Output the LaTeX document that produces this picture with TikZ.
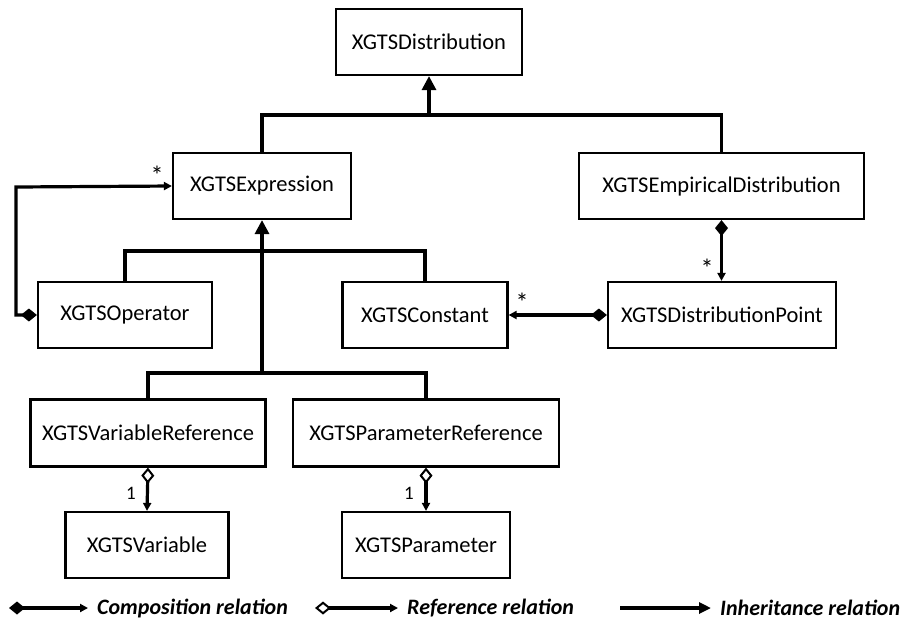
\documentclass[tikz,border=0pt]{standalone}
\usepackage{fontspec}
\setmainfont{Carlito}
\usetikzlibrary{arrows.meta}
\begin{document}
\begin{tikzpicture}[x=1pt,y=-1pt,
  cls/.style={draw,line width=2.2pt,rectangle,minimum height=66pt,inner sep=0pt,font=\fontsize{22.5}{26}\selectfont},
  conn/.style={line width=3.2pt},
  inh/.style={conn,-{Triangle[length=14pt,width=14pt]}},
  comp/.style={conn,{Diamond[length=16pt,width=13pt]}-{Triangle[length=8pt,width=8pt]}},
  refr/.style={conn,{Diamond[open,length=16pt,width=13pt,line width=2pt]}-{Triangle[length=8pt,width=8pt]}},
  mult/.style={font=\fontsize{19}{20}\selectfont},
  star/.style={font=\fontsize{26}{26}\selectfont},
  leg/.style={font=\fontsize{22}{24}\selectfont\bfseries\itshape,anchor=west,inner sep=0pt}
]
\useasboundingbox (0,0) rectangle (904,625);
\node[cls,minimum width=186pt] (dist) at (429,42) {XGTSDistribution};
\node[cls,minimum width=178pt] (expr) at (262,186) {XGTSExpression};
\node[cls,minimum width=285pt] (emp) at (721.5,186) {XGTSEmpiricalDistribution};
\node[cls,minimum width=174pt] (op) at (125,315) {XGTSOperator};
\node[cls,minimum width=165pt] (const) at (425,315) {XGTSConstant};
\node[cls,minimum width=228pt] (dpt) at (722,315) {XGTSDistributionPoint};
\node[cls,minimum width=235pt,minimum height=67pt] (varref) at (148,433) {XGTSVariableReference};
\node[cls,minimum width=266pt,minimum height=67pt] (parref) at (426,433) {XGTSParameterReference};
\node[cls,minimum width=163pt] (var) at (147,545) {XGTSVariable};
\node[cls,minimum width=168pt] (par) at (426,545) {XGTSParameter};

% inheritance to XGTSDistribution
\coordinate (j1) at (429,115);
\draw[conn] (expr.north) |- (j1) -| (emp.north);
\draw[inh] (j1) -- (dist.south);
% inheritance to XGTSExpression
\coordinate (j2) at (262,251);
\coordinate (j3) at (262,373);
\draw[conn] (op.north) |- (j2) -| (const.north);
\draw[conn] (varref.north) |- (j3) -| (parref.north);
\draw[inh] (j3) -- (expr.south);

% operator self composition
\coordinate (l1) at (16,315);
\coordinate (l2) at (16,187);
\draw[conn,{Diamond[length=16pt,width=13pt]}-{Triangle[length=8pt,width=8pt]}] (op.west) -- (l1) -- (l2) -- (expr.west);
\node[star] at (157,175) {*};

\draw[comp] (dpt.west) -- (const.east);
\node[star] at (522,302) {*};
\draw[comp] (emp.south) -- (emp.south |- dpt.north);
\node[star] at (707,268) {*};

\draw[refr] (varref.south) -- (var.north);
\node[mult] at (131,493) {1};
\draw[refr] (parref.south) -- (par.north);
\node[mult] at (409,493) {1};

% legend
\coordinate (a1) at (9,608); \coordinate (a2) at (88,608);
\draw[comp] (a1) -- (a2);
\node[leg] (t1) at (97,608) {Composition relation};
\coordinate (b1) at (315,608); \coordinate (b2) at (398,608);
\draw[refr] (b1) -- (b2);
\node[leg] (t2) at (407,608) {Reference relation};
\coordinate (c1) at (620,608); \coordinate (c2) at (711,608);
\draw[conn,-{Triangle[length=12pt,width=11pt]}] (c1) -- (c2);
\node[leg] (t3) at (720,608) {Inheritance relation};
\end{tikzpicture}
\end{document}
